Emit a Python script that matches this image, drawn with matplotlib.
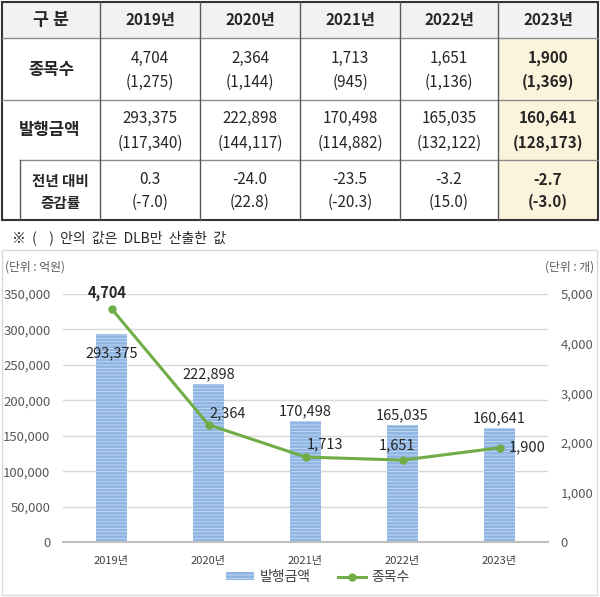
import matplotlib
matplotlib.use("Agg")
import matplotlib.pyplot as plt
from matplotlib.patches import Rectangle
import numpy as np

plt.rcParams["font.family"] = ["Noto Sans CJK KR", "DejaVu Sans"]
plt.rcParams["hatch.linewidth"] = 0.6

# Data
years = ["2019년", "2020년", "2021년", "2022년", "2023년"]
amount = [293375, 222898, 170498, 165035, 160641]
amount_dlb = [117340, 144117, 114882, 132122, 128173]
count = [4704, 2364, 1713, 1651, 1900]
count_dlb = [1275, 1144, 945, 1136, 1369]
growth = ["0.3", "-24.0", "-23.5", "-3.2", "-2.7"]
growth_dlb = ["(-7.0)", "(22.8)", "(-20.3)", "(15.0)", "(-3.0)"]

left_ticks = [0, 50000, 100000, 150000, 200000, 250000, 300000, 350000]
right_ticks = [0, 1000, 2000, 3000, 4000, 5000]

BAR_COLOR = "#8db4e2"
LINE_COLOR = "#70ad47"
DARK = "#262626"
GRAY = "#595959"

W, H = 600, 597
fig = plt.figure(figsize=(W / 100, H / 100), dpi=100)

# Background layer in pixel coords for table, note, chart frame
bg = fig.add_axes([0, 0, 1, 1])
bg.set_xlim(0, W)
bg.set_ylim(H, 0)
bg.axis("off")

# Table fills
bg.add_patch(Rectangle((2, 2), 596, 36, facecolor="#f2f2f2", edgecolor="none"))
bg.add_patch(Rectangle((498, 38), 100, 182, facecolor="#fcf3dd", edgecolor="none"))

# Table lines
inner = dict(color="#8c8c8c", lw=1.0)
bg.plot([2, 598], [38, 38], **inner)
bg.plot([2, 598], [100, 100], **inner)
bg.plot([20, 598], [160, 160], **inner)
for xv in [100, 200, 300, 400, 498]:
    bg.plot([xv, xv], [2, 220], color="#595959", lw=1.0)
bg.plot([20, 20], [160, 220], color="#595959", lw=1.0)
bg.add_patch(Rectangle((2, 2), 596, 218, facecolor="none", edgecolor="#333333", lw=1.5))

# Table text
cols_x = [150, 250, 350, 449, 548]
bg.text(51, 20, "구 분", ha="center", va="center", fontsize=12.5, fontweight="bold", color=DARK)
for i, y in enumerate(years):
    bg.text(cols_x[i], 20, y, ha="center", va="center", fontsize=11, fontweight="bold", color=DARK)

bg.text(51, 70, "종목수", ha="center", va="center", fontsize=12, fontweight="bold", color=DARK)
bg.text(50, 130, "발행금액", ha="center", va="center", fontsize=12, fontweight="bold", color=DARK)
bg.text(60, 181, "전년 대비", ha="center", va="center", fontsize=10.5, fontweight="bold", color=DARK)
bg.text(60, 203, "증감률", ha="center", va="center", fontsize=10.5, fontweight="bold", color=DARK)

for i in range(5):
    fw = "bold" if i == 4 else "normal"
    bg.text(cols_x[i], 58, f"{count[i]:,}", ha="center", va="center", fontsize=11, fontweight=fw, color=DARK)
    bg.text(cols_x[i], 82, f"({count_dlb[i]:,})", ha="center", va="center", fontsize=11, fontweight=fw, color=DARK)
    bg.text(cols_x[i], 118, f"{amount[i]:,}", ha="center", va="center", fontsize=11, fontweight=fw, color=DARK)
    bg.text(cols_x[i], 143, f"({amount_dlb[i]:,})", ha="center", va="center", fontsize=11, fontweight=fw, color=DARK)
    bg.text(cols_x[i], 180, growth[i], ha="center", va="center", fontsize=11, fontweight=fw, color=DARK)
    bg.text(cols_x[i], 202, growth_dlb[i], ha="center", va="center", fontsize=11, fontweight=fw, color=DARK)

# Note
bg.text(12, 238, "※  (    )  안의  값은  DLB만  산출한  값", ha="left", va="center", fontsize=10,
        color=DARK)

# Chart frame and unit labels
bg.add_patch(Rectangle((1.5, 250), 595.5, 345, facecolor="none", edgecolor="#d9d9d9", lw=1.0))
bg.text(5, 267, "(단위 : 억원)", ha="left", va="center", fontsize=8.5, color=GRAY)
bg.text(594, 267, "(단위 : 개)", ha="right", va="center", fontsize=8.5, color=GRAY)

# Chart axes
ax = fig.add_axes([63 / W, (H - 542) / H, 485 / W, 248 / H])
ax.set_facecolor("none")
x = np.arange(len(years))
bars = ax.bar(x, amount, width=0.31, color=BAR_COLOR, edgecolor="#c9dcf3", linewidth=0,
              hatch="-----", zorder=2, label="발행금액")
ax.set_xlim(-0.5, 4.5)
ax.set_ylim(0, 350000)
ax.set_yticks(left_ticks)
ax.set_yticklabels([f"{v:,}" for v in left_ticks], fontsize=9.5, color=GRAY)
ax.set_xticks(x)
ax.set_xticklabels(years, fontsize=8, color="#404040")
ax.tick_params(axis="both", length=0)
ax.tick_params(axis="y", pad=9)
ax.tick_params(axis="x", pad=10)
ax.grid(axis="y", color="#d9d9d9", lw=1.0, zorder=0)
for s in ["top", "left", "right"]:
    ax.spines[s].set_visible(False)
ax.spines["bottom"].set_color("#bfbfbf")
ax.spines["bottom"].set_linewidth(1.5)

bar_offsets = [-14, 7, 7, 7, 7]
for i, v in enumerate(amount):
    ax.annotate(f"{v:,}", (x[i], v), xytext=(0, bar_offsets[i]), textcoords="offset points",
                ha="center", va="center", fontsize=10.5, color=DARK, zorder=5)

ax2 = ax.twinx()
ax2.set_ylim(0, 5000)
ax2.set_yticks(right_ticks)
ax2.set_yticklabels([f"{v:,}" for v in right_ticks], fontsize=9.5, color=GRAY)
ax2.tick_params(axis="y", length=0, pad=9)
for s in ["top", "left", "right", "bottom"]:
    ax2.spines[s].set_visible(False)
line, = ax2.plot(x, count, color=LINE_COLOR, lw=2.2, marker="o", markersize=5, zorder=4, label="종목수")

line_offsets = [(-3, 11), (14, 8), (14, 9), (-4, 11), (20, 0)]
for i, v in enumerate(count):
    ax2.annotate(f"{v:,}", (x[i], v), xytext=line_offsets[i], textcoords="offset points",
                 ha="center", va="center", fontsize=10.5, color=DARK,
                 fontweight="bold" if i == 0 else "normal", zorder=5)

fig.legend(handles=[bars, line], loc="center", bbox_to_anchor=(0.53, (H - 577) / H), ncol=2,
           frameon=False, fontsize=10, handlelength=2.0, handleheight=0.5, columnspacing=2.0,
           handletextpad=0.4, labelcolor="#404040")

fig.savefig("out.png", dpi=100)
